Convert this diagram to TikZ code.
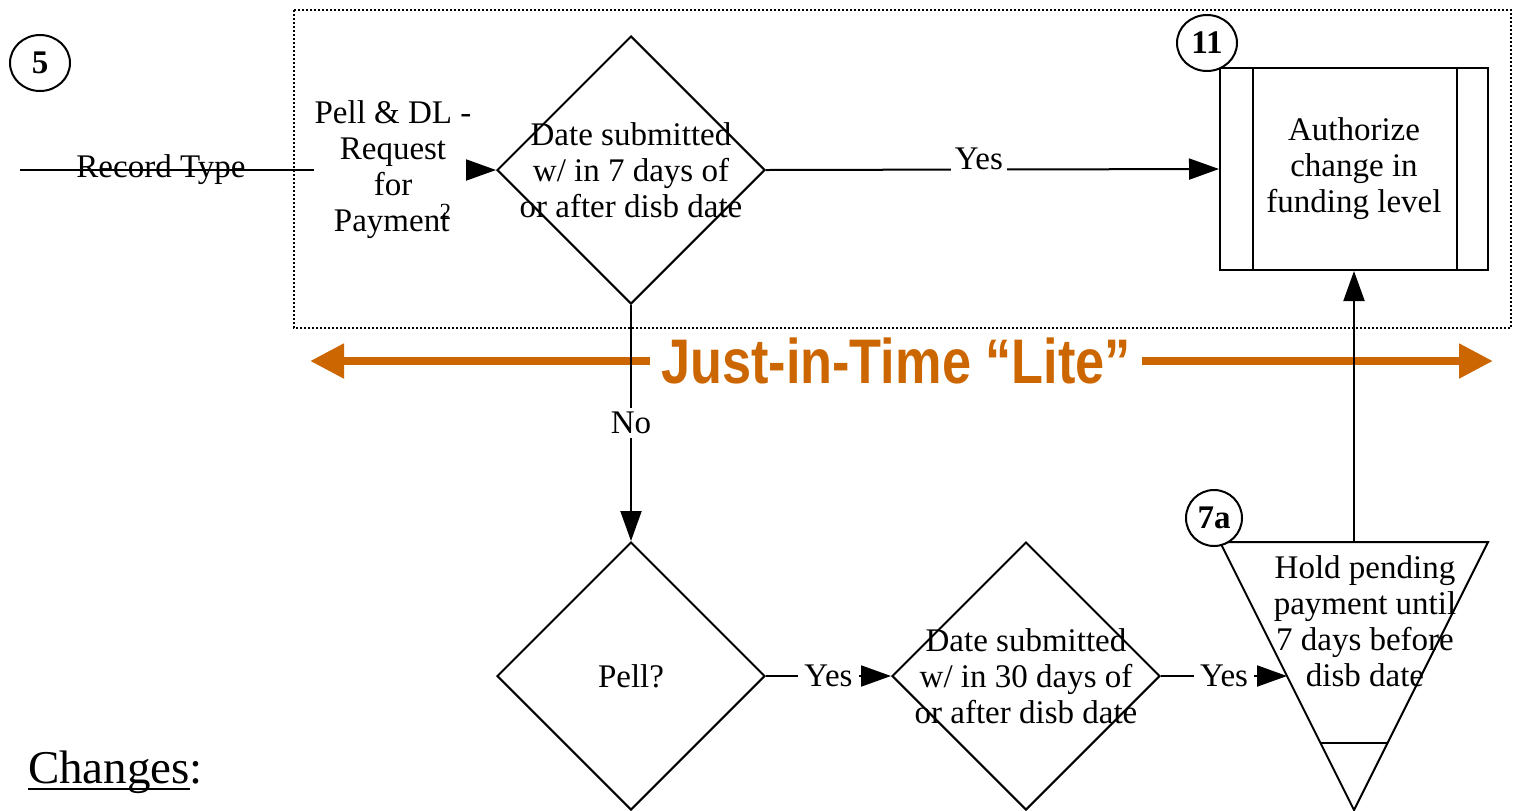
\documentclass[tikz,border=0pt]{standalone}
\usepackage{fontspec}
\usepackage{graphicx}
\setmainfont{Liberation Serif}
\newfontfamily\jitfont{Liberation Sans}
\usetikzlibrary{shapes.geometric,arrows.meta,calc}
\definecolor{jitorange}{RGB}{204,102,0}
\newcommand{\undertxt}[1]{\sbox0{#1}\rlap{\rule[-3.5pt]{\wd0}{1pt}}\usebox0}

\tikzset{every picture/.style={line width=1pt}}
\tikzset{
  flowtxt/.style={align=center,inner sep=0pt,font=\fontsize{16.5}{18}\selectfont},
  decision/.style={draw,diamond,minimum width=134pt,minimum height=134pt,inner sep=0pt},
  stepnum/.style={draw,ellipse,fill=white,inner sep=0pt,font=\fontsize{16.5}{18}\selectfont\bfseries},
  flow/.style={-{Triangle[length=15pt,width=10.5pt]}},
  lbl/.style={fill=white,inner sep=2pt,font=\fontsize{16.5}{18}\selectfont},
  jitarrow/.style={jitorange,line width=4pt,-{Triangle[length=17pt,width=16.5pt]}}
}

\begin{document}
\begin{tikzpicture}[x=0.5pt,y=0.5pt,yscale=-1,xscale=1]
\useasboundingbox (0,0) rectangle (1516,810);

%Dotted frame
\draw [line width=0.8pt, dash pattern=on 1pt off 1pt] (294,10) rectangle (1511,328);

%Just-in-Time band
\node [inner xsep=5pt, inner ysep=0pt, text=jitorange, font=\jitfont\bfseries\fontsize{31.5}{36}\selectfont] (jit) at (896,361) {\scalebox{0.83}[1]{Just-in-Time “Lite”}};
\coordinate (jitL) at (310,361);
\coordinate (jitR) at (1493,361);
\draw [jitarrow] (jit.west) -- (jitL);
\draw [jitarrow] (jit.east) -- (jitR);

%Record type entry
\coordinate (rtstart) at (20,170);
\node [flowtxt, anchor=base] (rectype) at (161,177) {Record Type};
\node [flowtxt] (pell) at (393,170) {Pell \& DL -\\Request\\for\\Payment\kern-.3em\textsuperscript{2}};
\draw (rtstart) -- (pell.west);

%Shape: Diamond
\node [decision] (d1) at (631,170) {};
\node [flowtxt] (d1txt) at (d1) {Date submitted\\w/ in 7 days of\\or after disb date};
\draw [flow] (pell.east) -- (d1.west);

%Shape: Rectangle
\node [draw, minimum width=134pt, minimum height=101pt, inner sep=0pt] (auth) at (1354,169) {};
\draw ([xshift=17pt]auth.north west) -- ([xshift=17pt]auth.south west);
\draw ([xshift=-16pt]auth.north east) -- ([xshift=-16pt]auth.south east);
\node [flowtxt] (authtxt) at (auth) {Authorize\\change in\\funding level};
\node [stepnum, minimum width=30pt, minimum height=28pt] (n11) at (1207,43) {11};
\draw [flow] (d1.east) -- node [lbl, pos=0.47, anchor=base] {Yes} (auth.west);

\node [stepnum, minimum width=30pt, minimum height=28pt] (n5) at (40,63) {5};

%Shape: Diamond
\node [decision] (pelltest) at (631,676) {};
\node [flowtxt] (pelltxt) at (pelltest) {Pell?};
\draw [flow] (d1.south) -- node [lbl] {No} (pelltest.north);

%Shape: Diamond
\node [decision] (d3) at (1026,676) {};
\node [flowtxt] (d3txt) at (d3) {Date submitted\\w/ in 30 days of\\or after disb date};
\draw [flow] (pelltest.east) -- node [lbl, inner sep=3pt] {Yes} (d3.west);

%Shape: Triangle
\coordinate (holdL) at (1220,542);
\coordinate (holdR) at (1488,542);
\coordinate (holdB) at (1354,810);
\coordinate (holdtop) at ($(holdL)!0.5!(holdR)$);
\coordinate (holdin) at ($(holdL)!0.5!(holdB)$);
\draw (holdL) -- (holdR) -- (holdB) -- cycle;
\draw ($(holdL)!0.75!(holdB)$) -- ($(holdR)!0.75!(holdB)$);
\node [flowtxt] (holdtxt) at (1365,621) {Hold pending\\payment until\\7 days before\\disb date};
\node [stepnum, minimum width=28pt, minimum height=28pt] (n7a) at (1214,518) {7a};
\draw [flow] (d3.east) -- node [lbl, inner sep=3pt] {Yes} (holdin);
\draw [flow] (holdtop) -- (auth.south);

%Changes
\node [anchor=base west, inner sep=0pt, font=\fontsize{23.5}{28}\selectfont] (chg) at (27,783) {\undertxt{Changes}:};

\end{tikzpicture}
\end{document}
